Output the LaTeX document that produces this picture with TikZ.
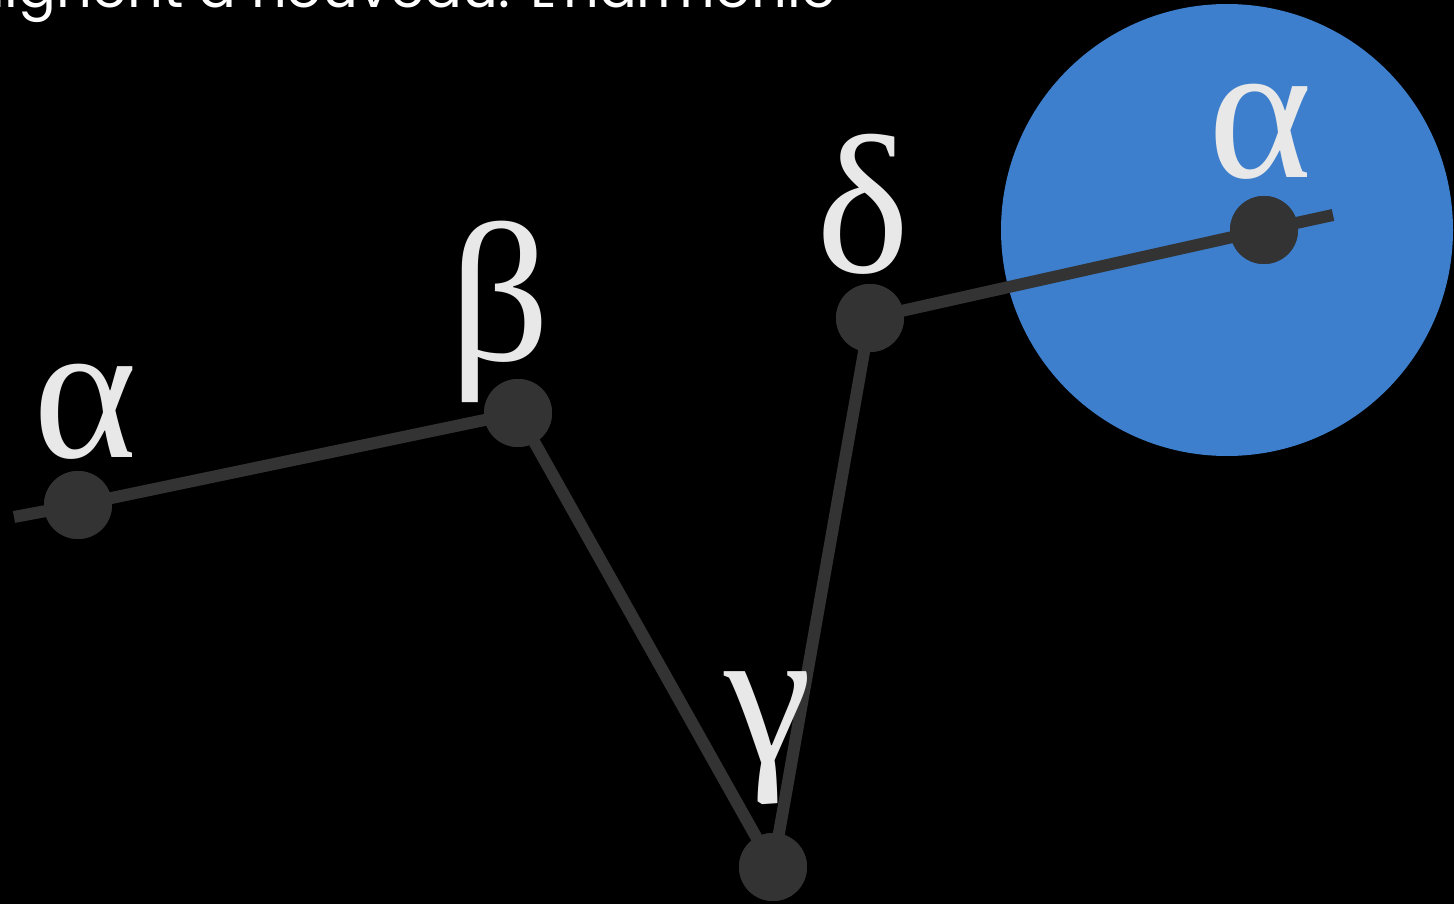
\documentclass[tikz,border=0pt]{standalone}
\usepackage{fontspec}
\setmainfont{Liberation Serif}
\newfontfamily\topfont{Poppins}
\definecolor{bg}{HTML}{000000}
\definecolor{joint}{HTML}{333333}
\definecolor{ball}{HTML}{3D7FCC}
\definecolor{lbl}{HTML}{E8E8E8}
\begin{document}
\begin{tikzpicture}[x=1pt,y=-1pt,
  dot/.style={circle,fill=joint,minimum size=68pt,inner sep=0pt},
  bone/.style={draw=joint,line width=12pt},
  greek/.style={text=lbl,inner sep=0pt,font=\fontsize{198}{198}\selectfont}]
\useasboundingbox (0,0) rectangle (1454,904);
\fill[bg] (0,0) rectangle (1454,904);
\clip (0,0) rectangle (1454,904);
\node[anchor=base west,text=white,inner sep=0pt,font=\topfont\fontsize{56}{56}\selectfont] (title) at (-9,8) {lignent à nouveau. L'harmonie};
\node[circle,fill=ball,minimum size=452pt,inner sep=0pt] (ballc) at (1227,230) {};
\coordinate (s) at (14,517);
\coordinate (e) at (1333,215);
\node[dot] (a1) at (78,505) {};
\node[dot] (b) at (518,413) {};
\node[dot] (g) at (773,867) {};
\node[dot] (d) at (870,318) {};
\node[dot] (a2) at (1264,230) {};
\draw[bone] (s) -- (a1.center) -- (b.center) -- (g.center) -- (d.center) -- (a2.center) -- (e);
\node[dot] at (a1) {};
\node[dot] at (b) {};
\node[dot] at (g) {};
\node[dot] at (d) {};
\node[dot] at (a2) {};
\node[greek] (la1) at (85,412) {α};
\node[greek] (lb) at (500,312) {β};
\node[greek] (lg) at (768,738) {γ};
\node[greek] (ld) at (863,204) {δ};
\node[greek] (la2) at (1260,132) {α};
\end{tikzpicture}
\end{document}
